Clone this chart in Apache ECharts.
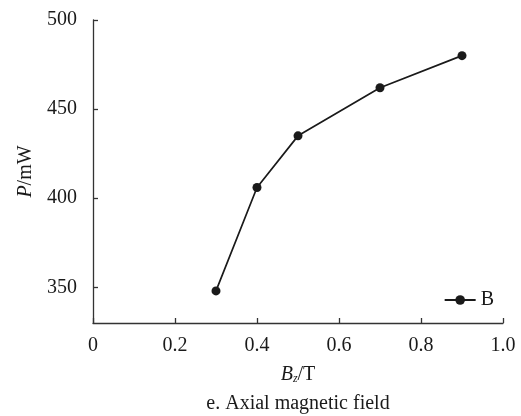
<!DOCTYPE html>
<html>
<head>
<meta charset="utf-8">
<script src="https://cdn.jsdelivr.net/npm/echarts@6/dist/echarts.min.js"></script>
<style>
  html, body { margin: 0; padding: 0; background: #fff; }
  #chart { width: 521px; height: 416px; }
</style>
</head>
<body>
<div id="chart"></div>
<script>
// Axial magnetic field B_z (T) versus output power P (mW)
const fieldValues = [0.3, 0.4, 0.5, 0.7, 0.9];
const powerValues = [348, 406, 435, 462, 480];
const yTickValues = [350, 400, 450, 500];
const seriesName = 'B';
const caption = 'e. Axial magnetic field';

const FONT = '"Liberation Serif", "Times New Roman", serif';
const FS = 20;
const INK = '#1a1a1a';
const AXIS = '#333';

const chart = echarts.init(document.getElementById('chart'), null, { renderer: 'canvas' });

chart.setOption({
  animation: false,
  backgroundColor: '#fff',
  textStyle: { fontFamily: FONT, color: INK },
  title: {
    text: caption,
    left: 298,
    textAlign: 'center',
    top: 394,
    padding: 0,
    textStyle: { fontFamily: FONT, fontSize: FS, fontWeight: 'normal', color: INK }
  },
  legend: {
    data: [seriesName],
    right: 22,
    top: 285,
    itemWidth: 31,
    itemHeight: 12,
    itemGap: 5,
    textStyle: { fontFamily: FONT, fontSize: FS, color: INK }
  },
  grid: { left: 93, right: 18, top: 20, bottom: 93, containLabel: false },
  xAxis: {
    type: 'value',
    min: 0,
    max: 1.0,
    interval: 0.2,
    name: '{i|B}{s|z}/T',
    nameLocation: 'middle',
    nameGap: 41,
    nameTextStyle: {
      fontFamily: FONT, fontSize: FS, color: INK,
      rich: {
        i: { fontFamily: FONT, fontSize: FS, fontStyle: 'italic', color: INK },
        s: { fontFamily: FONT, fontSize: 12, fontStyle: 'italic', color: INK, padding: [9, 0, 0, 0] }
      }
    },
    axisLine: { lineStyle: { color: AXIS, width: 1.3 } },
    axisTick: { inside: true, length: 5, lineStyle: { color: AXIS, width: 1.3 } },
    axisLabel: {
      fontFamily: FONT, fontSize: FS, color: INK, margin: 13,
      formatter: v => (v === 0 ? '0' : v.toFixed(1))
    },
    splitLine: { show: false }
  },
  yAxis: {
    type: 'value',
    min: 330,
    max: 500,
    name: '{i|P}/mW',
    nameLocation: 'middle',
    nameGap: 56,
    nameTextStyle: {
      fontFamily: FONT, fontSize: FS, color: INK,
      rich: {
        i: { fontFamily: FONT, fontSize: FS, fontStyle: 'italic', color: INK }
      }
    },
    axisLine: { show: true, lineStyle: { color: AXIS, width: 1.3 } },
    axisTick: { show: true, inside: true, length: 5, customValues: yTickValues, lineStyle: { color: AXIS, width: 1.3 } },
    axisLabel: { fontFamily: FONT, fontSize: FS, color: INK, margin: 16, customValues: yTickValues },
    splitLine: { show: false }
  },
  series: [{
    name: seriesName,
    type: 'line',
    data: fieldValues.map((x, i) => [x, powerValues[i]]),
    symbol: 'circle',
    symbolSize: 9,
    itemStyle: { color: INK },
    lineStyle: { color: INK, width: 1.7 }
  }]
});
</script>
</body>
</html>
